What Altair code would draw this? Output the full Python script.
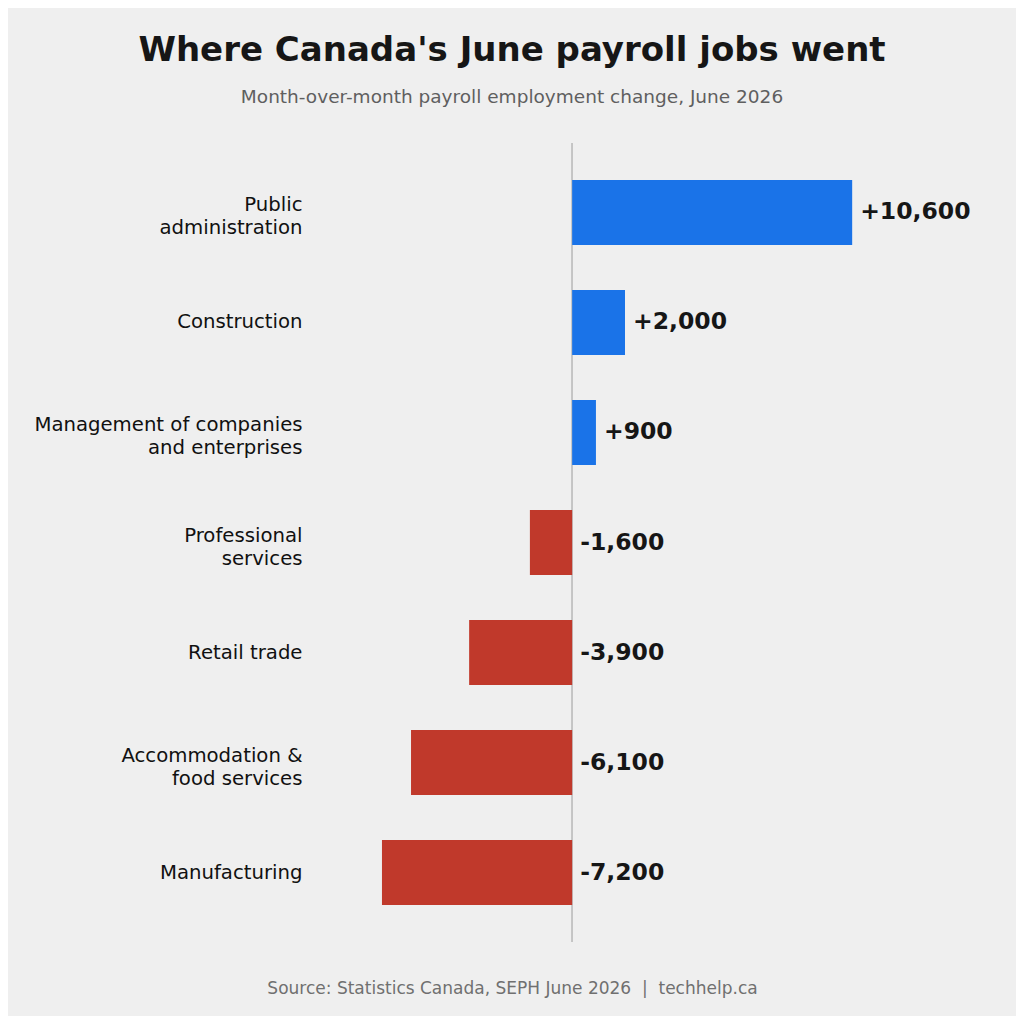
import altair as alt
import pandas as pd

sectors = [
    "Public\nadministration",
    "Construction",
    "Management of companies\nand enterprises",
    "Professional\nservices",
    "Retail trade",
    "Accommodation &\nfood services",
    "Manufacturing",
]
change = [10600, 2000, 900, -1600, -3900, -6100, -7200]

df = pd.DataFrame({"sector": sectors, "change": change})

FONT = "DejaVu Sans"
NB = "\u00a0"

base = alt.Chart(df).transform_calculate(
    labelx="max(datum.change, 0)",
    label="(datum.change > 0 ? '+' : '-') + format(abs(datum.change), ',')",
)

y = alt.Y(
    "sector:N",
    sort=None,
    scale=alt.Scale(paddingInner=0.41, paddingOuter=0.336),
    axis=alt.Axis(
        title=None,
        domain=False,
        ticks=False,
        labelExpr="split(datum.label, '\\n')",
        labelFont=FONT,
        labelFontSize=19.7,
        labelColor="#111111",
        labelLineHeight=23,
        labelPadding=6,
        labelLimit=400,
        labelOffset={"condition": {"test": "indexof(datum.label, '\\n') >= 0", "value": -7}, "value": 0},
    ),
)

x_scale = alt.Scale(domain=[-10000, 14000], nice=False)

bars = base.mark_bar().encode(
    x=alt.X(
        "change:Q",
        scale=x_scale,
        axis=alt.Axis(
            title=f"Source: Statistics Canada, SEPH June 2026 {NB}|{NB} techhelp.ca",
            labels=False,
            ticks=False,
            domain=False,
            grid=False,
            titleFont=FONT,
            titleFontSize=17,
            titleFontWeight="normal",
            titleColor="#707070",
            titleX=204,
            titleY=46,
            titleAlign="center",
            titleBaseline="middle",
        ),
    ),
    x2=alt.datum(0),
    y=y,
    color=alt.condition(alt.datum.change > 0, alt.value("#1a73e8"), alt.value("#c0392b")),
)

zero = alt.Chart(df).mark_rule(color="#c4c4c4", strokeWidth=1).encode(
    x=alt.datum(0, scale=x_scale)
)

labels = base.mark_text(
    align="left", baseline="middle", dx=8, font=FONT, fontSize=23.5,
    fontWeight="bold", color="#161616",
).encode(
    x=alt.X("labelx:Q", scale=x_scale),
    y=y,
    text="label:N",
)

chart = alt.layer(zero, bars, labels).properties(
    width=634,
    height=799,
    autosize=alt.AutoSizeParams(type="none"),
    padding={"left": 300, "top": 135, "right": 74, "bottom": 74},
    background="#efefef",
    title=alt.TitleParams(
        "Where Canada's June payroll jobs went",
        subtitle="Month-over-month payroll employment change, June 2026",
        anchor="middle",
        dx=-113,
        font=FONT,
        fontSize=34,
        fontWeight="bold",
        color="#161616",
        subtitleFont=FONT,
        subtitleFontSize=18.5,
        subtitleColor="#5f5f5f",
        subtitlePadding=20,
        offset=36,
    ),
).configure_view(stroke=None).configure_axis(grid=False)

chart.save("out.html", embed_options={"renderer": "svg", "actions": False})
